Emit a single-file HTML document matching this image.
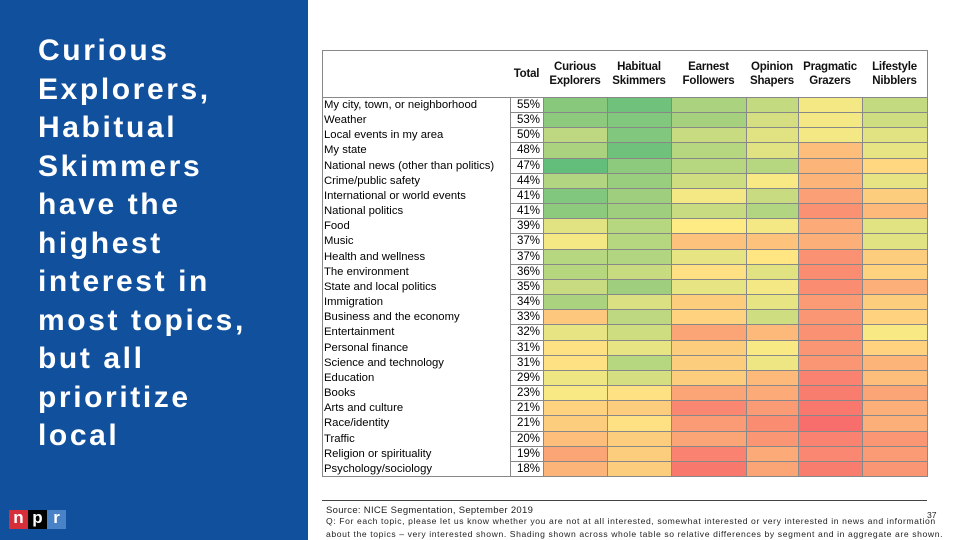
<!DOCTYPE html>
<html><head><meta charset="utf-8"><style>
body{margin:0;width:960px;height:540px;background:#fff;position:relative;overflow:hidden;font-family:"Liberation Sans",sans-serif}
#panel{position:absolute;left:0;top:0;width:308px;height:540px;background:#10509d}
#title{position:absolute;left:38px;top:32px;color:#fff;font-size:30px;font-weight:bold;line-height:38.5px;letter-spacing:2.6px}
.logo{position:absolute;top:510px;width:19px;height:19px;color:#fff;font-weight:bold;font-size:17px;text-align:center;line-height:16px}
.c{position:absolute;box-sizing:border-box}
.h{position:absolute;font-size:11.5px;font-weight:bold;letter-spacing:-0.2px;text-align:center;line-height:13.5px;color:#111}
.lab{position:absolute;font-size:11.3px;left:324px;white-space:nowrap}
.foot{position:absolute;font-size:8.6px;color:#222;white-space:nowrap;letter-spacing:.6px}
</style></head><body>
<div id="panel">
<div id="title">Curious<br>Explorers,<br>Habitual<br>Skimmers<br>have the<br>highest<br>interest in<br>most topics,<br>but all<br>prioritize<br>local</div>
<div class="logo" style="left:9px;background:#d62f3a">n</div>
<div class="logo" style="left:28px;background:#000">p</div>
<div class="logo" style="left:47px;background:#4a82c8">r</div>
</div>
<div id="table"></div>
<div style="position:absolute;left:322px;top:500px;width:605px;height:1px;background:#444"></div>
<div class="foot" style="left:326px;top:505px;font-size:9.5px;letter-spacing:.3px">Source: NICE Segmentation, September 2019</div>
<div class="foot" style="left:927px;top:510px;letter-spacing:0">37</div>
<div class="foot" style="left:326px;top:516px">Q: For each topic, please let us know whether you are not at all interested, somewhat interested or very interested in news and information</div>
<div class="foot" style="left:326px;top:529px">about the topics – very interested shown. Shading shown across whole table so relative differences by segment and in aggregate are shown.</div>
<script>
const topics=["My city, town, or neighborhood","Weather","Local events in my area","My state","National news (other than politics)","Crime/public safety","International or world events","National politics","Food","Music","Health and wellness","The environment","State and local politics","Immigration","Business and the economy","Entertainment","Personal finance","Science and technology","Education","Books","Arts and culture","Race/identity","Traffic","Religion or spirituality","Psychology/sociology"];
const totals=[55,53,50,48,47,44,41,41,39,37,37,36,35,34,33,32,31,31,29,23,21,21,20,19,18];
const segments=["Curious|Explorers","Habitual|Skimmers","Earnest|Followers","Opinion|Shapers","Pragmatic|Grazers","Lifestyle|Nibblers"];
const curious=[56,55,47,50,62,49,57,55,41,38,48,48,45,50,29,40,34,34,39,37,31,30,27,22,25];
const habitual=[60,57,57,60,55,53,52,52,48,48,49,45,52,42,47,44,40,48,43,34,30,34,30,30,30];
const earnest=[50,51,45,48,48,44,38,45,36,28,40,34,40,30,31,22,30,30,30,22,16,20,22,15,13];
const opinion=[46,43,41,41,48,37,45,49,38,28,35,41,38,40,44,26,37,39,26,23,20,17,19,23,22];
const pragmatic=[38,38,38,27,25,25,21,18,23,24,18,17,17,20,19,18,19,19,15,14,13,11,15,16,14];
const lifestyle=[46,44,41,40,32,40,30,26,41,41,30,31,24,30,31,37,31,25,27,22,24,24,19,20,19];
const series=[curious,habitual,earnest,opinion,pragmatic,lifestyle];
const colX=[543,607,671,746,798,862,927];
const T=document.getElementById('table');
const top0=97,rh=(476-97)/25;
function lerp(a,b,t){return a.map((v,i)=>Math.round(v+(b[i]-v)*t));}
function color(v){const lo=[248,105,107],mid=[255,235,132],hi=[99,190,123];let c;
 if(v<36)c=lerp(lo,mid,Math.max(0,(v-10)/26));else c=lerp(mid,hi,Math.min(1,(v-36)/26));
 return `rgb(${c})`;}
function box(x,y,w,h,st){const d=document.createElement('div');d.className='c';d.style.cssText=`left:${x}px;top:${y}px;width:${w}px;height:${h}px;`+st;T.appendChild(d);return d;}
let o=box(322,50,606,427,'border:1px solid #888;');


let hl=box(322,97,606,1,'background:#888;');


let th=document.createElement('div');th.className='h';th.style.cssText='left:510px;top:68px;width:33px';th.textContent='Total';


T.appendChild(th);
segments.forEach((s,j)=>{const d=document.createElement('div');d.className='h';
 d.style.cssText=`left:${colX[j]}px;top:61px;width:${colX[j+1]-colX[j]}px`;
 d.innerHTML=s.replace('|','<br>');
 
 
 T.appendChild(d);});
topics.forEach((t,i)=>{const y=top0+i*rh;
 const l=document.createElement('div');l.className='lab';l.style.top=(y+1)+'px';l.style.lineHeight=rh+'px';l.textContent=t;
 
 
 T.appendChild(l);
 const tt=box(510,y,34,rh+1,'border:1px solid #888;font-size:11.5px;text-align:right;padding-right:3px;line-height:15px;');
 tt.textContent=totals[i]+'%';
 
 
 series.forEach((s,j)=>{const c=box(colX[j],y,colX[j+1]-colX[j]+1,rh+1,'border:1px solid #888;background:'+color(s[i])+';');
  
  });
});
</script>
</body></html>
